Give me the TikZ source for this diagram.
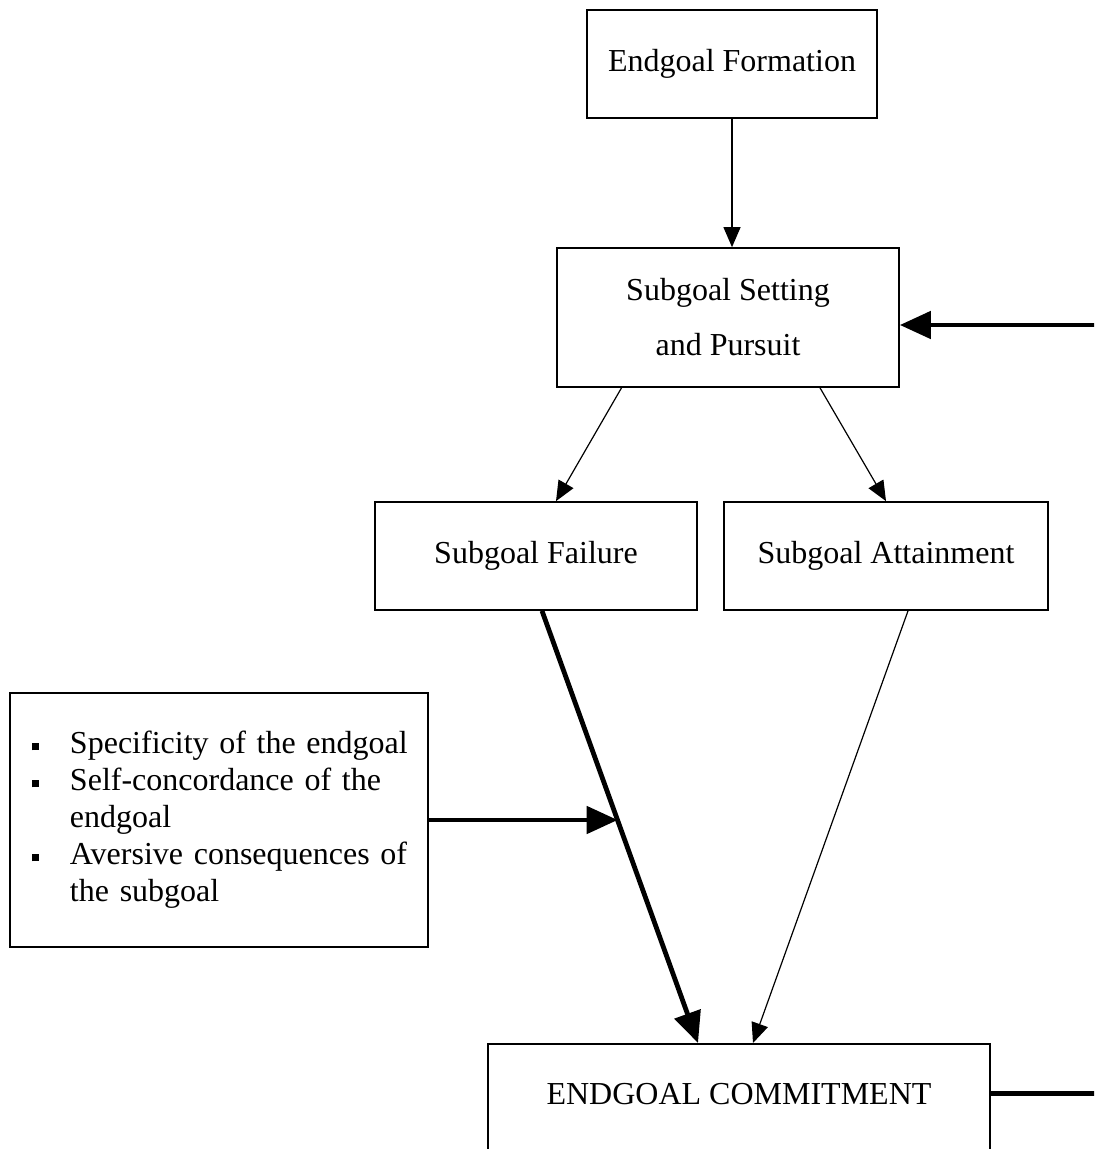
\documentclass[tikz,border=0pt]{standalone}
\usepackage{fontspec}
\setmainfont{Liberation Serif}
\usetikzlibrary{arrows.meta,calc,positioning}

\tikzset{
  box/.style={draw, line width=0.85pt, rectangle, inner sep=0pt, align=center,
    font=\fontsize{16}{18.5}\selectfont},
  thinarr/.style={-{Triangle[length=10pt,width=8.5pt]}, line width=0.6pt},
  thickarr/.style={-{Triangle[length=15.5pt,width=13.5pt]}, line width=2.4pt},
}
\newcommand{\sqbul}{\rule[1.5pt]{3.5pt}{3.5pt}}

\begin{document}
\begin{tikzpicture}[x=0.5pt,y=-0.5pt]
  \useasboundingbox (0,0) rectangle (1094,1149);
  \clip (0,0) rectangle (1094,1149);
  \node[box, minimum width=145pt, minimum height=54pt] (form) at (732,64) {Endgoal Formation};
  \node[box, minimum width=171pt, minimum height=69.5pt] (set) at (728,317.5) {Subgoal Setting\\[9pt]and Pursuit};
  \node[box, minimum width=161pt, minimum height=54pt] (fail) at (536,556) {Subgoal Failure};
  \node[box, minimum width=162pt, minimum height=54pt] (att) at (886,556) {Subgoal Attainment};
  \node[box, text width=209pt, minimum height=127pt, align=left] (fac) at (219,820) {%
    \begin{tabular}{@{\hspace{11pt}}l@{\hspace{15.5pt}}l@{}}
      \sqbul & Specificity of the endgoal\\
      \sqbul & Self-concordance of the\\
             & endgoal\\
      \sqbul & Aversive consequences of\\
             & the subgoal
    \end{tabular}};
  \node[box, minimum width=251pt, minimum height=60pt, text height=11pt, text depth=10pt, anchor=north] (com) at (739,1043) {ENDGOAL COMMITMENT};
  \draw[thinarr](form.south)--(form.south |- set.north);
  \draw[thinarr]([xshift=-53.25pt]set.south)--([xshift=10pt]fail.north);
  \draw[thinarr]([xshift=46pt]set.south)--(att.north);
  \draw[thickarr]([xshift=3pt]fail.south)--coordinate[pos=0.485](cross)([xshift=-20.5pt]com.north);
  \draw[thinarr]([xshift=11pt]att.south)--([xshift=7pt]com.north);
  \draw[thickarr](fac.east)--(fac.east -| cross);
  \draw[thickarr]([yshift=5pt]com.east)--++(80pt,0)|-([yshift=-3.75pt]set.east);
\end{tikzpicture}
\end{document}
